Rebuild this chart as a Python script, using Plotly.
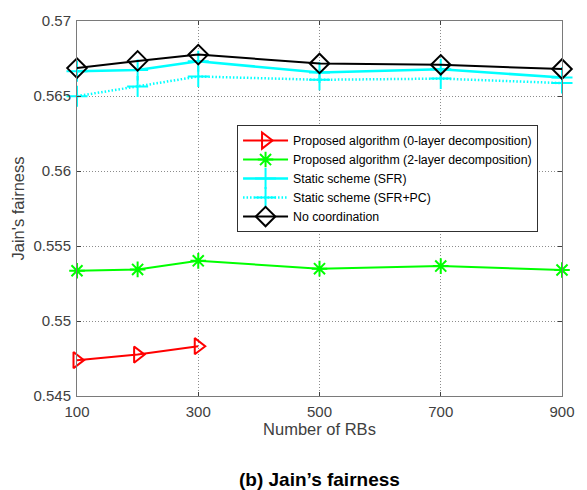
import plotly.graph_objects as go

rbs = [100, 200, 300, 500, 700, 900]
rbs_0layer = [100, 200, 300]
prop_0layer = [0.54739, 0.54776, 0.54832]
prop_2layer = [0.55335, 0.55344, 0.55401, 0.55349, 0.55366, 0.55340]
static_sfr = [0.56665, 0.56673, 0.56732, 0.56656, 0.56678, 0.56623]
static_sfr_pc = [0.56499, 0.56564, 0.56630, 0.56608, 0.56616, 0.56586]
no_coord = [0.56686, 0.56734, 0.56776, 0.56717, 0.56708, 0.56680]

xticks = [100, 300, 500, 700, 900]
yticks = [0.545, 0.55, 0.555, 0.56, 0.565, 0.57]
yticklabels = ["0.545", "0.55", "0.555", "0.56", "0.565", "0.57"]

FONT = "Liberation Sans, Arial, sans-serif"

fig = go.Figure()
fig.add_trace(go.Scatter(x=rbs_0layer, y=prop_0layer, mode="lines+markers",
    name="Proposed algorithm (0-layer decomposition)", cliponaxis=False,
    line=dict(color="#ff0000", width=2),
    marker=dict(symbol="triangle-right-open", size=14, color="#ff0000", line=dict(width=2))))
fig.add_trace(go.Scatter(x=rbs, y=prop_2layer, mode="lines+markers",
    name="Proposed algorithm (2-layer decomposition)", cliponaxis=False,
    line=dict(color="#00ff00", width=2),
    marker=dict(symbol="asterisk-open", size=13, color="#00ff00", line=dict(width=2, color="#00ff00"))))
fig.add_trace(go.Scatter(x=rbs, y=static_sfr, mode="lines+markers",
    name="Static scheme (SFR)", cliponaxis=False,
    line=dict(color="#00ffff", width=2.5),
    marker=dict(symbol="cross-thin-open", size=15, color="#00ffff", line=dict(width=2, color="#00ffff"))))
fig.add_trace(go.Scatter(x=rbs, y=static_sfr_pc, mode="lines+markers",
    name="Static scheme (SFR+PC)", cliponaxis=False,
    line=dict(color="#00ffff", width=2.5, dash="1.5px,2px"),
    marker=dict(symbol="cross-thin-open", size=15, color="#00ffff", line=dict(width=2, color="#00ffff"))))
fig.add_trace(go.Scatter(x=rbs, y=no_coord, mode="lines+markers",
    name="No coordination", cliponaxis=False,
    line=dict(color="#000000", width=2),
    marker=dict(symbol="diamond-open", size=15, color="#000000", line=dict(width=2))))

axis_common = dict(showline=True, linecolor="#7a7a7a", linewidth=1, mirror="ticks",
                   showgrid=True, gridcolor="#8c8c8c", griddash="1px,2px", gridwidth=1,
                   ticks="inside", ticklen=4, tickcolor="#404040", zeroline=False,
                   tickfont=dict(family=FONT, size=15, color="#404040"))

fig.update_layout(
    width=587, height=490,
    margin=dict(l=77, r=25, t=14, b=94),
    plot_bgcolor="white", paper_bgcolor="white",
    font=dict(family=FONT, color="#404040"),
    xaxis=dict(range=[100, 900], tickvals=xticks, ticklabelstandoff=2, **axis_common,
               title=dict(text="Number of RBs", font=dict(family=FONT, size=16.5, color="#404040"), standoff=3)),
    yaxis=dict(range=[0.545, 0.57], tickvals=yticks, ticktext=yticklabels, ticklabelstandoff=2, **axis_common,
               title=dict(text="Jain's fairness", font=dict(family=FONT, size=16.5, color="#404040"), standoff=4)),
    legend=dict(x=0.33, y=0.7225, xanchor="left", yanchor="top",
                bgcolor="white", bordercolor="#303030", borderwidth=1,
                font=dict(family=FONT, size=12.3, color="#000000"), tracegroupgap=0,
                itemwidth=45),
    showlegend=True,
)
fig.add_annotation(text="<b>(b) Jain’s fairness</b>", xref="paper", yref="paper",
                   x=0.5, y=-85/382, xanchor="center", yanchor="middle", showarrow=False,
                   font=dict(family=FONT, size=19, color="#000000"))

fig.write_html("out.html")
